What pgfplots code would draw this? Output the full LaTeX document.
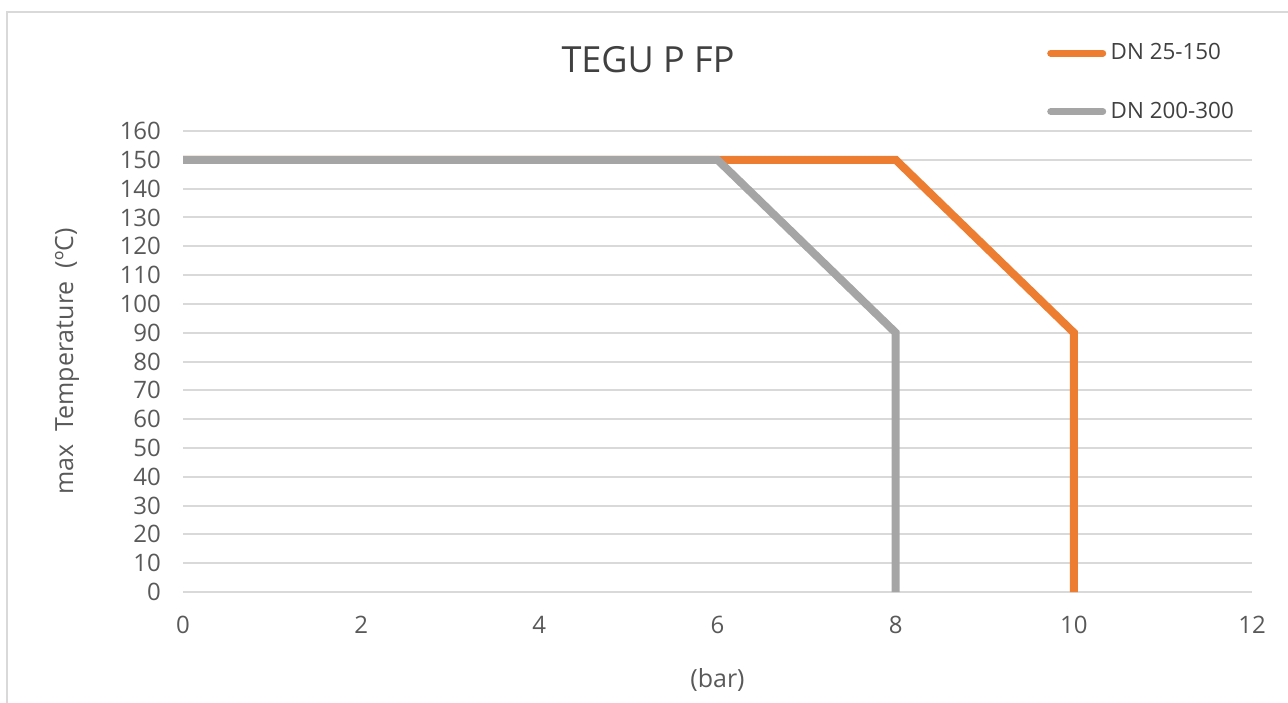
\documentclass[border=0pt]{standalone}
\usepackage{pgfplots}
\pgfplotsset{compat=1.18}
\usepackage{fontspec}
\setmainfont{Open Sans}
\definecolor{cOrange}{HTML}{ED7D31}
\definecolor{cGray}{HTML}{A5A5A5}
\definecolor{cGrid}{HTML}{D9D9D9}
\definecolor{cText}{HTML}{595959}
\definecolor{cDark}{HTML}{404040}
\begin{document}
\begin{tikzpicture}
% pixel (px,py) -> ((px-183)*0.5pt, (592-py)*0.5pt)
\useasboundingbox (-91.5pt,-55pt) rectangle (552.5pt,296pt);
\draw[cGrid, line width=1pt] (-88pt,-70pt) -- (-88pt,290pt) -- (570pt,290pt);
\node[cDark, font=\fontsize{18}{22}\selectfont] at (232.5pt,266pt) {TEGU P FP};
\begin{axis}[
  at={(0pt,0pt)}, anchor=south west,
  scale only axis, width=534.5pt, height=230.5pt,
  xmin=0, xmax=12, ymin=0, ymax=160,
  xtick={0,2,...,12}, ytick={0,10,...,160},
  axis lines*=left, axis line style={draw=none},
  major tick length=0pt,
  ymajorgrids, grid style={cGrid, line width=1pt},
  tick label style={cText, font=\fontsize{12}{14}\selectfont},
  /pgf/number format/assume math mode=true,
  yticklabel style={xshift=-7.5pt},
  xticklabel style={yshift=-8.5pt},
  xlabel={(bar)}, ylabel={max\ \ Temperature\ \ (ºC)},
  label style={cText, font=\fontsize{12.5}{14}\selectfont},
  xlabel style={at={(rel axis cs:0.5,0)}, anchor=center, yshift=-44pt},
  ylabel style={at={(rel axis cs:0,0.5)}, anchor=center, xshift=0pt, yshift=58pt},
  clip=false,
  legend style={at={(rel axis cs:0.809,1.225)}, anchor=north west, draw=none, fill=none,
    xshift=-3.5pt, yshift=-5pt,
    font=\fontsize{11.2}{13}\selectfont, text=cDark, row sep=17.5pt,
    nodes={inner sep=1pt}},
  legend cell align=left,
  legend image code/.code={\draw[#1, line width=3.5pt, line cap=round] (0pt,0pt) -- (26pt,0pt); \path (27pt,0pt);},
]
\addplot[cOrange, line width=4pt, line join=miter] coordinates {(0,150) (8,150) (10,90) (10,0)};
\addlegendentry{DN 25-150}
\addplot[cGray, line width=4pt, line join=miter] coordinates {(0,150) (6,150) (8,90) (8,0)};
\addlegendentry{DN 200-300}
\end{axis}
\end{tikzpicture}
\end{document}
